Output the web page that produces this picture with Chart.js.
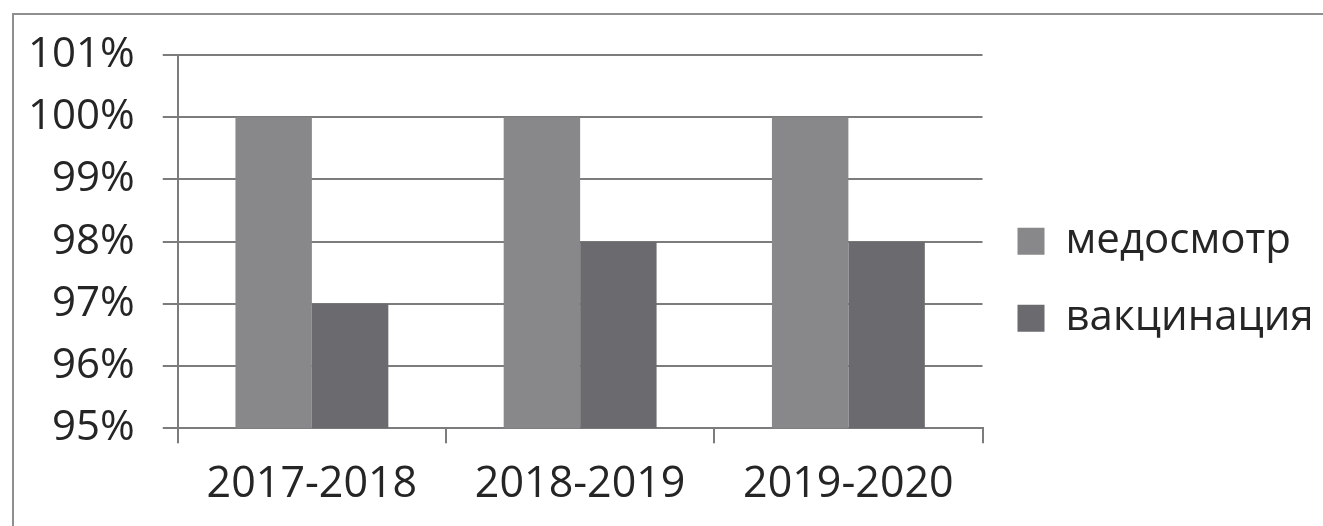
<!DOCTYPE html>
<html>
<head>
<meta charset="utf-8">
<script src="https://cdn.jsdelivr.net/npm/chart.js@4.4.1/dist/chart.umd.min.js"></script>
<style>
    html, body { margin: 0; padding: 0; background: #fff; overflow: hidden; }
    #wrap { position: relative; width: 1323px; height: 526px; }
    #frame {
        position: absolute; left: 12px; top: 13px; width: 1330px; height: 540px;
        border: 2px solid #8f8f8f; box-sizing: border-box;
    }
    canvas { position: absolute; left: 0; top: 0; }
</style>
</head>
<body>
<div id="wrap">
    <div id="frame"></div>
    <canvas id="barChart" width="1323" height="526"></canvas>
</div>
<script>
    // данные с картинки
    const years = ["2017-2018", "2018-2019", "2019-2020"];
    const medosmotr = [100, 100, 100];
    const vakcinacia = [97, 98, 98];
    const yMin = 95;
    const yMax = 101;

    window.addEventListener("load", () => {
        let ctx = document.getElementById("barChart").getContext("2d");

        const data = {
            labels: years,
            datasets: [{
                label: "медосмотр",
                data: medosmotr,
                backgroundColor: "#88888a",
                borderWidth: 0
            }, {
                label: "вакцинация",
                data: vakcinacia,
                backgroundColor: "#6b6b6f",
                borderWidth: 0
            }]
        };

        const config = {
            type: "bar",
            data: data,
            options: {
                responsive: false,
                animation: false,
                devicePixelRatio: 1,
                layout: {
                    padding: { left: 0, top: 55, right: 13, bottom: 0 }
                },
                datasets: {
                    bar: {
                        barPercentage: 1,
                        categoryPercentage: 0.57
                    }
                },
                scales: {
                    x: {
                        grid: {
                            drawOnChartArea: false,
                            drawTicks: true,
                            tickLength: 15,
                            color: "#7c7c7c",
                            lineWidth: 2
                        },
                        border: { color: "#7c7c7c", width: 2 },
                        ticks: {
                            padding: 22,
                            color: "#252525",
                            font: { family: "Open Sans", size: 43, lineHeight: 0.9 }
                        }
                    },
                    y: {
                        min: yMin,
                        max: yMax,
                        grid: {
                            tickLength: 15,
                            color: "#7c7c7c",
                            lineWidth: 2
                        },
                        border: { color: "#7c7c7c", width: 2 },
                        ticks: {
                            stepSize: 1,
                            padding: 28,
                            color: "#252525",
                            font: { family: "Open Sans", size: 42 },
                            callback: function (value) {
                                return value + "%";
                            }
                        }
                    }
                },
                plugins: {
                    legend: {
                        position: "right",
                        fullSize: false,
                        title: {
                            display: true,
                            text: "",
                            font: { size: 10 },
                            padding: { top: 64, bottom: 0 }
                        },
                        labels: {
                            boxWidth: 27,
                            boxHeight: 27,
                            padding: 35,
                            color: "#252525",
                            font: { family: "Open Sans", size: 42 }
                        }
                    },
                    tooltip: { enabled: false }
                }
            }
        };

        const barChart = new Chart(ctx, config);
    });
</script>
</body>
</html>
